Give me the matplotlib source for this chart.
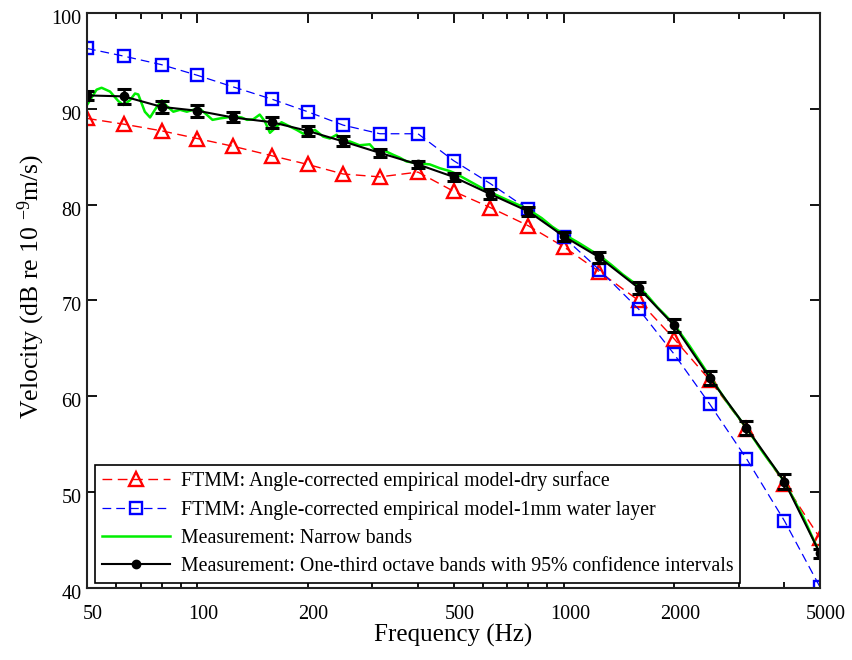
import matplotlib
matplotlib.use("Agg")
import matplotlib.pyplot as plt
import matplotlib.transforms as mtransforms
from matplotlib.ticker import FixedLocator, NullFormatter

plt.rcParams['font.family'] = ['Liberation Serif', 'DejaVu Serif']
plt.rcParams['mathtext.fontset'] = 'custom'
plt.rcParams['mathtext.rm'] = 'Liberation Serif'
plt.rcParams['mathtext.it'] = 'Liberation Serif:italic'

# One-third octave band centre frequencies (Hz)
bands = [50, 63, 80, 100, 125, 160, 200, 250, 315, 400, 500, 630, 800,
         1000, 1250, 1600, 2000, 2500, 3150, 4000, 5000]

# FTMM, angle-corrected empirical model, dry surface (dB)
ftmm_dry = [89.0, 88.4, 87.7, 86.9, 86.1, 85.1, 84.2, 83.2, 82.9, 83.4, 81.4,
            79.7, 77.8, 75.6, 73.0, 70.0, 66.0, 61.7, 56.6, 50.9, 45.2]

# FTMM, angle-corrected empirical model, 1 mm water layer (dB)
ftmm_wet = [96.3, 95.5, 94.6, 93.5, 92.3, 91.0, 89.7, 88.3, 87.4, 87.4, 84.6,
            82.2, 79.5, 76.6, 73.2, 69.1, 64.4, 59.2, 53.5, 47.0, 40.1]

# Measured one-third octave levels and 95% confidence half-widths (dB)
meas_third = [91.4, 91.3, 90.2, 89.8, 89.1, 88.6, 87.7, 86.6, 85.4, 84.2, 82.9,
              81.1, 79.3, 76.7, 74.5, 71.3, 67.4, 61.95, 56.7, 51.1, 43.6]
meas_ci = [0.5, 0.75, 0.65, 0.65, 0.52, 0.57, 0.5, 0.52, 0.43, 0.38, 0.4,
           0.5, 0.5, 0.47, 0.6, 0.65, 0.7, 0.73, 0.75, 0.78, 0.45]

# Measured narrow-band spectrum
narrow_freq = [50, 53.1, 54.8, 57.8, 60.9, 62.9, 65.5, 67.6, 69, 71.9, 74.3,
               77.5, 80, 82.5, 86, 89.7, 93.6, 97.4, 101.7, 106, 110, 115.3,
               120.3, 125.2, 132, 136.6, 142, 148, 152.8, 157.8, 164.6, 169.7,
               179, 186.7, 194.6, 203, 209.4, 220.5, 230, 240, 249.5, 260.6,
               277, 295.5, 305, 321.5, 342.5, 357, 372.5, 406, 431, 459, 489,
               510, 550, 600, 630, 700, 760, 800, 870, 930, 1000, 1100, 1200,
               1250, 1350, 1450, 1600, 1700, 1800, 1900, 2000, 2200, 2500,
               2800, 3150, 3500, 4000, 4500, 4900]
narrow_level = [90.4, 92.0, 92.2, 91.8, 90.8, 90.4, 90.9, 91.6, 91.5, 89.7, 89.1,
                90.2, 90.9, 90.3, 89.7, 89.9, 89.7, 89.9, 90.0, 89.4, 88.85, 89.0,
                89.1, 89.2, 89.1, 88.85, 88.9, 89.4, 88.7, 87.5, 88.15, 88.6,
                88.15, 87.8, 87.4, 87.6, 87.8, 87.1, 86.9, 87.3, 86.4, 86.6,
                86.2, 86.3, 85.7, 85.7, 85.2, 84.9, 84.5, 84.3, 84.2, 83.8, 83.5,
                83.2, 82.5, 81.7, 81.3, 80.5, 79.9, 79.5, 78.6, 77.7, 76.9, 76.0,
                75.1, 74.7, 73.7, 72.7, 71.5, 70.4, 69.3, 68.4, 67.5, 65.3, 62.1,
                59.3, 56.7, 54.1, 51.1, 47.4, 44.3]

x_ticks = [50, 100, 200, 500, 1000, 2000, 5000]
x_tick_labels = ['50', '100', '200', '500', '1000', '2000', '5000']
x_minor = [60, 70, 80, 90, 300, 400, 600, 700, 800, 900, 3000, 4000]
y_ticks = [40, 50, 60, 70, 80, 90, 100]

fig = plt.figure(figsize=(8.53, 6.6), dpi=100)
ax = fig.add_axes([87 / 853, 1 - 588 / 660, 733 / 853, 575 / 660])

ax.plot(bands, ftmm_dry, color='red', lw=1.0, ls=(0, (7, 4)), marker='^',
        ms=10.5, mfc='none', mec='red', mew=1.7,
        label='FTMM: Angle-corrected empirical model-dry surface')
ax.plot(bands, ftmm_wet, color='blue', lw=0.9, ls=(0, (7, 4)), marker='s',
        ms=8.5, mfc='none', mec='blue', mew=1.7,
        label='FTMM: Angle-corrected empirical model-1mm water layer')
ax.plot(narrow_freq, narrow_level, color='#00ee00', lw=1.8,
        label='Measurement: Narrow bands')
ax.errorbar(bands, meas_third, yerr=meas_ci, fmt='none', ecolor='black',
            elinewidth=1.8, capsize=5, capthick=2.2)
ax.plot(bands, meas_third, color='black', lw=1.5, marker='o', ms=6,
        label='Measurement: One-third octave bands with 95% confidence intervals')

ax.set_xscale('log')
ax.set_xlim(50, 5000)
ax.set_ylim(40, 100)
ax.xaxis.set_major_locator(FixedLocator(x_ticks))
ax.set_xticklabels(x_tick_labels)
ax.xaxis.set_minor_locator(FixedLocator(x_minor))
ax.xaxis.set_minor_formatter(NullFormatter())
ax.set_yticks(y_ticks)

ax.tick_params(which='both', direction='in', top=True, right=True,
               labelsize=14.5, width=1.3)
ax.tick_params(axis='x', which='major', pad=12)
ax.tick_params(axis='y', which='major', pad=4)
ax.tick_params(which='major', length=7)
ax.tick_params(which='minor', length=4)
for s in ax.spines.values():
    s.set_linewidth(1.5)
    s.set_color('#222222')

# small offsets on the tick labels
x_shift = mtransforms.ScaledTranslation(6 / 100, 0, fig.dpi_scale_trans)
y_shift = mtransforms.ScaledTranslation(0, -4 / 100, fig.dpi_scale_trans)
for lbl in ax.get_xticklabels():
    lbl.set_transform(lbl.get_transform() + x_shift)
for lbl in ax.get_yticklabels():
    lbl.set_transform(lbl.get_transform() + y_shift)

ax.set_xlabel('Frequency (Hz)', fontsize=18, labelpad=0)
ax.set_ylabel('Velocity (dB re 10 $^{-9}$m/s)', fontsize=18.5, labelpad=2)
ax.yaxis.set_label_coords(-0.054, 0.525)

leg = ax.legend(loc='lower left', bbox_to_anchor=(0.011, 0.009), fontsize=14.3,
                frameon=True, fancybox=False, edgecolor='black', framealpha=1,
                handlelength=3.45, handletextpad=0.55, labelspacing=0.47,
                borderpad=0.33, borderaxespad=0)
leg.get_frame().set_linewidth(1.2)

fig.savefig('out.png', dpi=100)
